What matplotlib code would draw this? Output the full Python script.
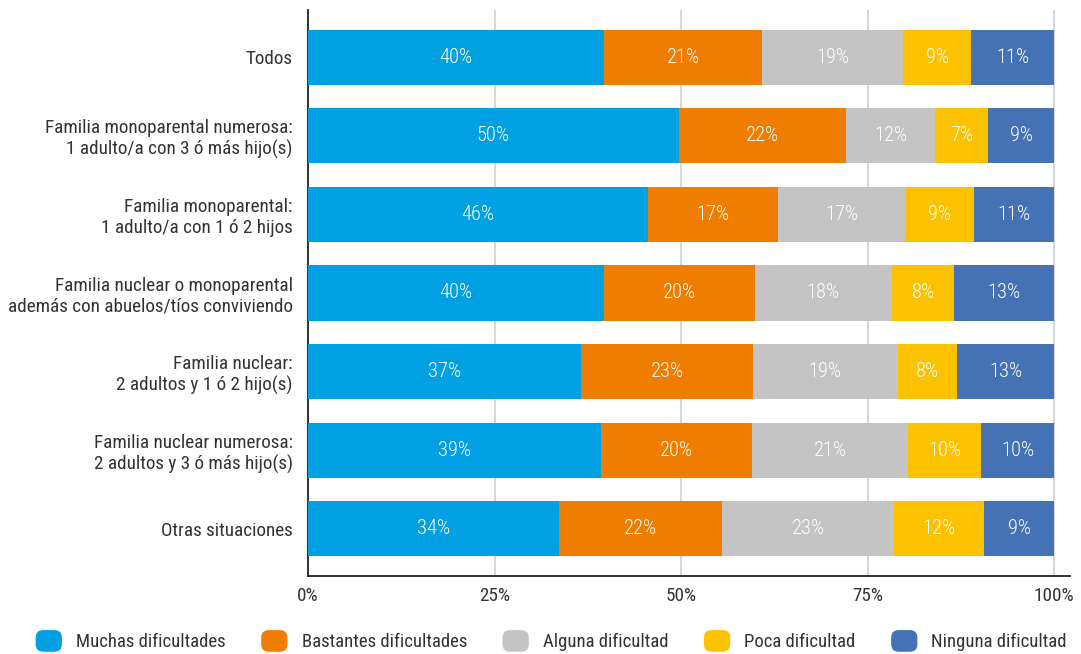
import numpy as np
import matplotlib
matplotlib.use("Agg")
import matplotlib.pyplot as plt
from matplotlib import font_manager
from matplotlib.patches import FancyBboxPatch
from matplotlib.legend_handler import HandlerPatch

# narrow face if there is one, else Roboto
installed = {f.name for f in font_manager.fontManager.ttflist}
narrow = [f for f in ['Roboto Condensed', 'Liberation Sans Narrow', 'Arial Narrow'] if f in installed]
plt.rcParams['font.family'] = narrow + ['Roboto', 'DejaVu Sans']
fs = 13.8 if narrow else 12

categories = [
    "Todos",
    "Familia monoparental numerosa:\n1 adulto/a con 3 ó más hijo(s)",
    "Familia monoparental:\n1 adulto/a con 1 ó 2 hijos",
    "Familia nuclear o monoparental\nademás con abuelos/tíos conviviendo",
    "Familia nuclear:\n2 adultos y 1 ó 2 hijo(s)",
    "Familia nuclear numerosa:\n2 adultos y 3 ó más hijo(s)",
    "Otras situaciones",
]
series_names = ["Muchas dificultades", "Bastantes dificultades", "Alguna dificultad",
                "Poca dificultad", "Ninguna dificultad"]
muchas = [39.6, 49.7, 45.6, 39.6, 36.6, 39.2, 33.6]
bastantes = [21.3, 22.4, 17.4, 20.3, 23.0, 20.3, 21.9]
alguna = [18.8, 11.9, 17.0, 18.3, 19.4, 20.9, 23.0]
poca = [9.2, 7.1, 9.2, 8.4, 8.0, 9.8, 12.1]
ninguna = [11.1, 8.9, 10.8, 13.4, 13.0, 9.8, 9.4]
colors = ["#00A0E2", "#EF7D00", "#C4C4C4", "#FCC200", "#4472B4"]
xticks = [0, 25, 50, 75, 100]

fig = plt.figure(figsize=(10.81, 6.54), dpi=100)
ax = fig.add_axes([0.2849, 0.1193, 0.7049, 0.8654])

y = np.arange(len(categories))
left = np.zeros(len(categories))
for name, vals, col in zip(series_names, [muchas, bastantes, alguna, poca, ninguna], colors):
    bars = ax.barh(y, vals, left=left, height=0.7, color=col, label=name, zorder=3)
    ax.bar_label(bars, labels=[f"{round(v):.0f}%" for v in vals], label_type='center',
                 color='white', fontsize=fs + 1, fontweight='light')
    left += np.array(vals)

ax.set_ylim(6.6, -0.6)
ax.set_xlim(0, 102.1)
ax.set_yticks(y)
ax.set_yticklabels(categories, fontsize=fs, color='#333333')
ax.set_xticks(xticks)
ax.set_xticklabels([f"{t}%" for t in xticks], fontsize=fs, color='#333333')
ax.tick_params(length=0, pad=11)
ax.tick_params(axis='x', pad=8)
ax.grid(axis='x', color='#D0D0D0', linewidth=1.2, zorder=0)
for s in ['top', 'right']:
    ax.spines[s].set_visible(False)
ax.spines['left'].set_color('#222222')
ax.spines['bottom'].set_color('#222222')
ax.spines['left'].set_linewidth(1.3)
ax.spines['bottom'].set_linewidth(1.3)


class RoundHandler(HandlerPatch):
    def create_artists(self, legend, orig_handle, xdescent, ydescent, width, height, fontsize, trans):
        p = FancyBboxPatch((-xdescent, -ydescent), width, height,
                           boxstyle=f"round,pad=0,rounding_size={height * 0.35}",
                           facecolor=orig_handle.get_facecolor(), edgecolor='none', transform=trans)
        return [p]


handles, labels = ax.get_legend_handles_labels()
handles = [h.patches[0] if hasattr(h, 'patches') else h for h in handles]
fig.legend(handles, labels, loc='center', bbox_to_anchor=(0.51, 0.02), ncol=5, frameon=False,
           fontsize=13.5, handlelength=1.4, handleheight=1.4, handletextpad=0.75,
           columnspacing=1.9, handler_map={h: RoundHandler() for h in handles},
           labelcolor='#333333')

fig.savefig("out.png", dpi=100)
